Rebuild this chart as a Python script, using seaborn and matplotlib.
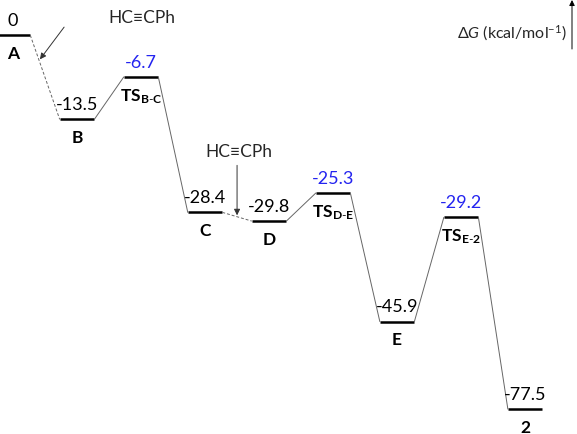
import numpy as np
import pandas as pd
import seaborn as sns
import matplotlib.pyplot as plt

# Free-energy profile (kcal/mol)
names = ["A", "B", "TS_B-C", "C", "D", "TS_D-E", "E", "TS_E-2", "2"]
energies = [0, -13.5, -6.7, -28.4, -29.8, -25.3, -45.9, -29.2, -77.5]
is_ts = [False, False, True, False, False, True, False, True, False]
dashed_steps = [0, 3]  # A->B and C->D: alkyne coordination
reagent = "HC\u2261CPh"

sns.set_theme(style="white")
plt.rcParams["font.family"] = ["Lato", "DejaVu Sans"]
plt.rcParams["mathtext.fontset"] = "custom"
plt.rcParams["mathtext.rm"] = "Lato"
plt.rcParams["mathtext.it"] = "Lato:italic"
plt.rcParams["mathtext.bf"] = "Lato:bold"

BLUE = "#2424f0"
df = pd.DataFrame({"name": names, "energy": energies, "ts": is_ts})
df["pos"] = np.arange(len(df))

# the drawing is squeezed below E (broken energy axis)
BREAK, SQUEEZE = -45.9, 0.444


def fwd(v):
    v = np.asarray(v, dtype=float)
    return np.where(v >= BREAK, v, BREAK + (v - BREAK) * SQUEEZE)


def inv(u):
    u = np.asarray(u, dtype=float)
    return np.where(u >= BREAK, u, BREAK + (u - BREAK) / SQUEEZE)


fig = plt.figure(figsize=(5.77, 4.35), dpi=100)
ax = fig.add_axes([0, 0, 1, 1])
ax.set_yscale("function", functions=(fwd, inv))
ax.set_xlim(-0.203, 8.81)
ax.set_ylim(-86.5, 5.8)
ax.axis("off")

w = 0.27
ax.hlines(df["energy"], df["pos"] - w, df["pos"] + w, color="black", lw=1.8)

# connectors
for i in range(len(df) - 1):
    ls = (0, (3, 2)) if i in dashed_steps else "-"
    ax.plot([df["pos"][i] + w, df["pos"][i + 1] - w],
            [df["energy"][i], df["energy"][i + 1]],
            color="#666666", lw=0.7, ls=ls)


def label_of(name):
    if name.startswith("TS_"):
        a, b = name[3:].split("-")
        return r"$\mathbf{TS}_{\mathbf{%s}\text{-}\mathbf{%s}}$" % (a, b)
    return name


for _, r in df.iterrows():
    val = "0" if r["energy"] == 0 else f"{r['energy']:.1f}"
    ax.annotate(val, (r["pos"], r["energy"]), xytext=(0, 7.5),
                textcoords="offset points", ha="center", va="baseline",
                fontsize=13, color=BLUE if r["ts"] else "black")
    ax.annotate(label_of(r["name"]), (r["pos"], r["energy"]), xytext=(0, -16.5),
                textcoords="offset points", ha="center", va="baseline",
                fontsize=12.5, fontweight="bold", color="black")


# reagent arrows pointing at the dashed steps
def on_step(i, t):
    x0, x1 = df["pos"][i] + w, df["pos"][i + 1] - w
    y0, y1 = df["energy"][i], df["energy"][i + 1]
    return (x0 + t * (x1 - x0), y0 + t * (y1 - y0))


arrow = dict(arrowstyle="-|>", color="#333333", lw=0.7, mutation_scale=9,
             shrinkA=0, shrinkB=1)
tip1 = on_step(0, 0.3)
ax.annotate("", tip1, xytext=(18, 24), textcoords="offset points", arrowprops=arrow)
ax.annotate(reagent, tip1, xytext=(74, 31.5), textcoords="offset points",
            ha="center", va="center", fontsize=12.5)

tip2 = on_step(3, 0.5)
ax.annotate("", tip2, xytext=(0, 37), textcoords="offset points", arrowprops=arrow)
ax.annotate(reagent, tip2, xytext=(1, 47), textcoords="offset points",
            ha="center", va="center", fontsize=12.5)

# energy axis hint
fig.text(567 / 577, 1 - 33 / 435, "\u0394$G$ (kcal/mol$^{-1}$)",
         ha="right", va="center", fontsize=11.5)
ax.annotate("", xy=(572 / 577, 1 - 1 / 435), xycoords="figure fraction",
            xytext=(572 / 577, 1 - 50 / 435), textcoords="figure fraction",
            arrowprops=dict(arrowstyle="-|>", color="black", lw=0.7,
                            mutation_scale=8, shrinkA=0, shrinkB=0))

fig.savefig("out.png", dpi=100)
